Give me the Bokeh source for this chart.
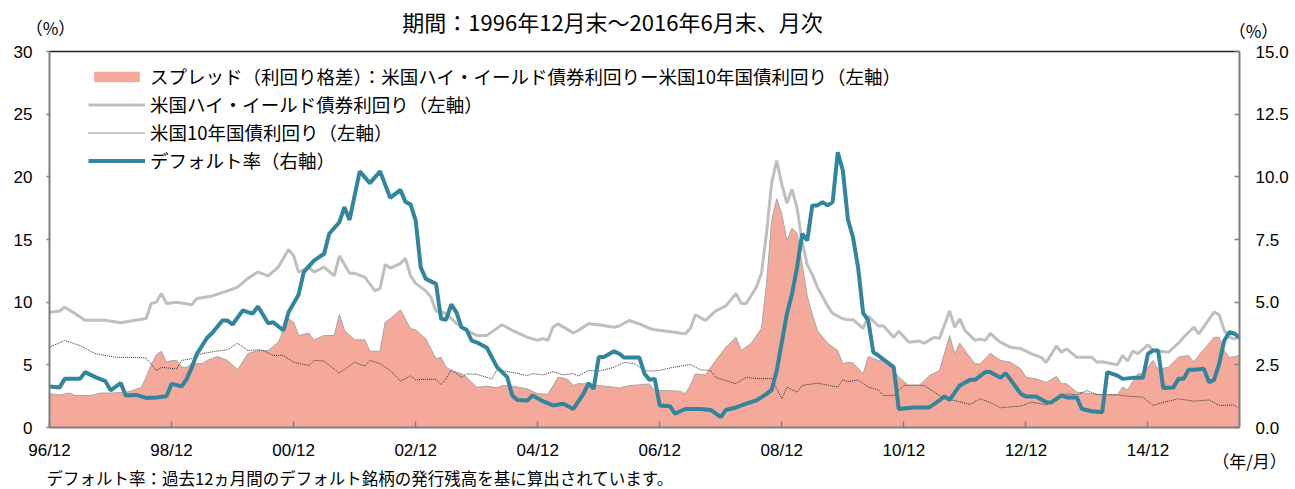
from bokeh.plotting import figure
from bokeh.models import (Range1d, LinearAxis, FixedTicker, Label, Legend,
                          LegendItem, NumeralTickFormatter)
from bokeh.embed import file_html
from bokeh.resources import INLINE

# ---------------- data (month index: 0 = 1996/12, 234 = 2016/6) ----------------
x_tick_pos = [0, 24, 48, 72, 96, 120, 144, 168, 192, 216]
x_tick_labels = ["96/12", "98/12", "00/12", "02/12", "04/12", "06/12",
                 "08/12", "10/12", "12/12", "14/12"]

hy_month = [0, 2, 3, 5, 7, 9, 11, 14, 16, 19, 20, 21, 22, 23, 25, 28, 29, 32, 35, 37,
            39, 41, 43, 45, 47, 48, 49, 51, 52, 54, 56, 57, 59, 60, 62, 64, 65, 66, 67, 69,
            70, 71, 72, 74, 75, 76, 78, 80, 82, 84, 86, 89, 91, 94, 96, 97, 98, 99, 100, 103,
            104, 106, 108, 111, 112, 114, 116, 118, 119, 121, 123, 125, 126, 127, 129, 131, 133, 135, 136, 137,
            139, 140, 141, 142, 143, 144, 145, 146, 147, 148, 149, 150, 151, 153, 154, 156, 157, 158, 160, 161,
            163, 164, 166, 167, 169, 171, 172, 174, 175, 177, 178, 179, 180, 182, 183, 184, 185, 187, 189, 191,
            193, 195, 196, 198, 199, 200, 202, 205, 206, 207, 210, 211, 212, 213, 214, 216, 217, 220, 222, 223,
            225, 226, 229, 230, 231, 232, 233, 234]
hy_yield = [9.2, 9.3, 9.6, 9.1, 8.55, 8.55, 8.55, 8.35, 8.5, 8.7, 9.9, 10.0, 10.7, 9.9, 10.0, 9.8, 10.3, 10.5, 10.9, 11.2,
            11.9, 12.4, 12.1, 12.8, 14.2, 13.7, 12.4, 12.8, 12.4, 12.8, 12.1, 13.7, 12.3, 12.3, 12.0, 10.9, 11.1, 13.0, 12.7, 13.1,
            13.5, 12.1, 11.5, 10.9, 10.4, 9.3, 9.1, 8.3, 7.75, 7.35, 7.35, 8.2, 7.75, 7.2, 6.95, 7.1, 6.95, 8.0, 8.27, 7.55,
            7.75, 8.27, 8.2, 8.0, 8.1, 8.54, 8.27, 7.9, 7.8, 7.7, 7.6, 7.47, 7.9, 9.0, 8.54, 9.3, 9.7, 10.7, 9.9, 9.9,
            11.2, 12.3, 15.5, 19.5, 21.3, 19.4, 17.9, 19.0, 17.5, 14.8, 13.0, 12.2, 11.2, 9.7, 9.1, 8.67, 8.6, 8.6, 7.9, 8.9,
            8.1, 8.1, 7.2, 7.67, 6.8, 6.9, 6.73, 7.2, 7.1, 9.3, 8.0, 8.67, 7.75, 6.95, 7.05, 6.95, 7.5, 6.8, 6.4, 6.3,
            5.9, 5.6, 5.2, 6.5, 6.0, 6.28, 5.6, 5.6, 5.2, 5.25, 5.0, 5.75, 5.3, 6.1, 5.9, 6.6, 6.14, 6.0, 6.73, 7.2,
            8.0, 7.47, 9.2, 9.0, 7.75, 7.2, 7.07, 7.2]

ust_month = [0, 3, 6, 8, 9, 13, 16, 19, 21, 22, 25, 26, 28, 30, 33, 35, 37, 39, 41, 42,
             44, 46, 48, 51, 52, 54, 57, 60, 62, 63, 65, 67, 69, 71, 72, 74, 76, 77, 78, 79,
             81, 82, 84, 87, 88, 91, 94, 95, 97, 99, 101, 103, 104, 106, 108, 111, 113, 115, 117, 118,
             120, 122, 126, 128, 130, 131, 135, 137, 139, 142, 144, 145, 147, 148, 151, 155, 156, 157, 159, 161,
             163, 164, 166, 168, 170, 172, 173, 176, 178, 181, 183, 185, 187, 189, 191, 193, 195, 196, 200, 202,
             204, 206, 210, 212, 215, 217, 219, 222, 225, 228, 230, 233, 234]
ust_yield = [6.4, 6.94, 6.54, 6.1, 5.9, 5.6, 5.6, 5.55, 4.55, 4.8, 4.68, 5.35, 5.5, 5.9, 6.1, 6.2, 6.73, 6.14, 6.2, 6.14,
             5.75, 5.75, 5.2, 4.95, 5.35, 5.3, 4.34, 5.2, 4.9, 5.35, 5.1, 4.55, 3.7, 4.12, 3.8, 3.85, 3.85, 3.43, 3.9, 4.6,
             4.0, 4.28, 4.25, 3.88, 4.6, 4.4, 4.14, 4.3, 4.2, 4.45, 4.2, 4.3, 4.1, 4.55, 4.5, 4.8, 5.2, 5.1, 4.55, 4.5,
             4.55, 4.75, 5.03, 4.6, 4.55, 4.0, 3.49, 4.0, 3.9, 3.9, 2.29, 3.22, 2.82, 3.35, 3.54, 3.22, 3.8, 3.65, 3.8, 3.22,
             3.0, 2.55, 2.55, 3.35, 3.4, 3.35, 3.08, 2.29, 2.15, 1.84, 2.29, 2.0, 1.57, 1.65, 1.7, 2.02, 1.89, 1.8, 2.69, 2.6,
             2.95, 2.62, 2.6, 2.5, 2.42, 1.76, 2.0, 2.29, 2.1, 2.2, 1.76, 1.8, 1.49]

spread_month = [0, 2, 4, 5, 8, 10, 12, 15, 18, 19, 20, 21, 22, 23, 24, 25, 26, 27, 28, 30,
                31, 33, 35, 37, 39, 41, 43, 45, 47, 48, 49, 51, 52, 54, 56, 57, 58, 60, 62, 63,
                65, 66, 67, 69, 71, 72, 74, 76, 77, 78, 79, 81, 82, 84, 86, 88, 89, 91, 94, 96,
                98, 100, 101, 102, 103, 104, 106, 108, 111, 112, 114, 116, 118, 119, 121, 124, 125, 126, 127, 129,
                131, 133, 135, 136, 138, 140, 141, 142, 143, 144, 145, 146, 147, 148, 149, 150, 151, 153, 155, 156,
                157, 158, 160, 161, 163, 164, 166, 167, 169, 171, 173, 175, 177, 178, 179, 180, 182, 183, 185, 187,
                189, 191, 192, 194, 196, 198, 199, 200, 202, 205, 207, 210, 211, 212, 214, 215, 217, 218, 220, 222,
                224, 225, 226, 229, 230, 231, 232, 233, 234]
spread_value = [2.69, 2.6, 2.75, 2.55, 2.55, 2.75, 2.75, 2.8, 3.17, 4.0, 5.0, 5.8, 6.09, 5.21, 5.35, 5.35, 4.81, 4.81, 5.1, 5.1,
                5.35, 5.67, 5.35, 4.62, 5.9, 6.14, 6.14, 6.81, 8.67, 8.4, 7.34, 7.53, 7.0, 7.34, 7.34, 9.02, 7.75, 7.0, 7.0, 6.09,
                6.09, 8.4, 8.67, 9.39, 7.87, 7.8, 7.07, 5.48, 5.6, 4.81, 4.55, 4.3, 4.01, 3.22, 3.3, 3.17, 3.35, 3.3, 3.08, 2.69,
                2.65, 4.01, 3.95, 3.8, 3.35, 3.5, 3.48, 3.35, 3.22, 3.15, 3.35, 3.4, 3.48, 2.95, 2.95, 2.9, 2.69, 3.35, 4.28, 4.2,
                5.35, 6.41, 7.2, 6.14, 6.73, 7.9, 11.5, 16.5, 18.25, 17.05, 14.9, 15.9, 15.5, 13.0, 10.5, 9.0, 7.74, 6.73, 6.14, 5.08,
                5.21, 5.15, 4.28, 5.67, 5.35, 5.4, 4.55, 4.01, 3.35, 3.35, 4.14, 4.55, 7.34, 5.88, 6.73, 6.14, 5.08, 5.08, 5.93, 5.35,
                5.2, 4.68, 4.01, 3.88, 3.6, 4.07, 3.48, 3.5, 2.82, 2.69, 2.62, 2.62, 3.22, 3.0, 4.28, 4.3, 5.35, 4.62, 4.81, 5.61,
                5.75, 5.21, 5.75, 7.2, 7.2, 6.14, 5.61, 5.65, 5.75]

dr_month = [0, 2, 3, 5, 6, 7, 9, 11, 12, 14, 15, 17, 19, 21, 23, 24, 26, 27, 28, 29,
            31, 32, 34, 35, 36, 38, 39, 40, 41, 43, 44, 46, 47, 49, 50, 52, 54, 55, 57, 58,
            59, 61, 63, 65, 67, 69, 70, 71, 72, 73, 74, 76, 77, 78, 79, 80, 81, 82, 83, 84,
            86, 88, 90, 91, 92, 94, 95, 97, 99, 101, 103, 105, 106, 107, 108, 109, 111, 112, 113, 116,
            117, 118, 119, 120, 122, 123, 125, 128, 130, 132, 133, 135, 137, 139, 141, 142, 143, 145, 146, 147,
            148, 149, 150, 151, 152, 153, 154, 155, 156, 157, 158, 159, 160, 161, 162, 163, 166, 167, 170, 173,
            175, 176, 177, 179, 181, 182, 184, 185, 187, 188, 189, 191, 192, 194, 196, 197, 199, 200, 202, 203,
            205, 207, 208, 210, 211, 213, 215, 216, 217, 218, 219, 221, 222, 223, 224, 225, 227, 228, 229, 230,
            231, 232, 233, 234]
dr_value = [1.64, 1.6, 1.94, 1.94, 1.94, 2.21, 2.01, 1.85, 1.48, 1.77, 1.28, 1.3, 1.18, 1.2, 1.25, 1.74, 1.64, 1.94, 2.41, 2.94,
            3.58, 3.77, 4.27, 4.27, 4.11, 4.67, 4.6, 4.55, 4.83, 4.16, 4.2, 3.87, 4.6, 5.31, 6.2, 6.66, 6.93, 7.73, 8.19, 8.79,
            8.28, 10.22, 9.75, 10.22, 9.16, 9.48, 9.0, 8.9, 8.26, 6.39, 5.93, 5.73, 4.34, 4.3, 4.91, 4.6, 4.0, 3.9, 3.47, 3.4,
            3.18, 2.41, 2.01, 1.28, 1.1, 1.08, 1.28, 1.05, 0.88, 0.95, 0.74, 1.34, 1.77, 1.54, 2.81, 2.81, 3.04, 2.95, 2.79, 2.79,
            2.14, 1.9, 1.95, 0.88, 0.85, 0.55, 0.74, 0.74, 0.7, 0.41, 0.7, 0.8, 0.95, 1.08, 1.34, 1.5, 2.27, 4.53, 5.33, 6.39,
            7.73, 7.46, 8.86, 8.86, 8.99, 8.86, 8.99, 10.98, 10.25, 8.3, 7.59, 6.39, 4.56, 4.27, 3.0, 2.87, 2.41, 0.74, 0.8, 0.8,
            1.08, 1.24, 1.1, 1.68, 1.9, 1.9, 2.21, 2.21, 1.98, 2.17, 1.9, 1.34, 1.24, 1.24, 1.01, 1.0, 1.28, 1.2, 1.2, 0.74,
            0.65, 0.61, 2.21, 2.07, 1.94, 1.98, 1.98, 2.94, 3.07, 3.07, 1.58, 1.6, 1.94, 1.94, 2.3, 2.3, 2.34, 1.81, 1.9, 2.54,
            3.47, 3.8, 3.75, 3.58]

left_ticks = [0, 5, 10, 15, 20, 25, 30]
right_ticks = [0, 2.5, 5, 7.5, 10, 12.5, 15]

label_spread = "スプレッド（利回り格差）：米国ハイ・イールド債券利回りー米国10年国債利回り（左軸）"
label_hy = "米国ハイ・イールド債券利回り（左軸）"
label_ust = "米国10年国債利回り（左軸）"
label_dr = "デフォルト率（右軸）"
title_text = "期間：1996年12月末～2016年6月末、月次"
note_text = "デフォルト率：過去12ヵ月間のデフォルト銘柄の発行残高を基に算出されています。"

# ---------------- layout / styling ----------------
JP = "Noto Sans CJK JP"
NUM = "Liberation Sans"
PINK = "#F5A99A"
TEAL = "#31859C"
AXIS = "#7f7f7f"

W, H = 1291, 489
# plot box in canvas pixels
BX0, BX1, BY0, BY1 = 49, 1239, 51, 427
XMAX, YMAX, RMAX = 234, 30, 15
sx = (BX1 - BX0) / XMAX
sy = (BY1 - BY0) / YMAX
sr = (BY1 - BY0) / RMAX

p = figure(width=W, height=H, output_backend="svg", toolbar_location=None,
           x_range=Range1d(-BX0 / sx, XMAX + (W - BX1) / sx),
           y_range=Range1d(-(H - BY1) / sy, YMAX + BY0 / sy),
           min_border=0, min_border_left=0, min_border_right=0,
           min_border_top=0, min_border_bottom=0,
           x_axis_type=None, y_axis_type=None)
p.outline_line_color = None
p.xgrid.visible = False
p.ygrid.visible = False
p.extra_y_ranges = {"right": Range1d(-(H - BY1) / sr, RMAX + BY0 / sr)}

# glyphs
r_spread = p.varea(x=spread_month, y1=[0] * len(spread_month), y2=spread_value, fill_color=PINK)
p.line(spread_month, spread_value, line_color="#A6A6A6", line_width=1)
r_ust = p.line(ust_month, ust_yield, line_color="#333333", line_width=1, line_dash="1 1")
r_hy = p.line(hy_month, hy_yield, line_color="#BFBFBF", line_width=3)
r_dr = p.line(dr_month, dr_value, line_color=TEAL, line_width=4, y_range_name="right")


def style_axis(ax, tin, tout, standoff):
    ax.major_tick_in = tin
    ax.major_tick_out = tout
    ax.minor_tick_line_color = None
    ax.axis_line_color = AXIS
    ax.axis_line_width = 2
    ax.major_tick_line_color = AXIS
    ax.major_tick_line_width = 1.5
    ax.major_label_standoff = standoff
    ax.major_label_text_font = NUM
    ax.major_label_text_font_size = "17px"
    ax.major_label_text_color = "#000000"


xa = LinearAxis(ticker=FixedTicker(ticks=x_tick_pos), fixed_location=0, bounds=(0, XMAX))
xa.major_label_overrides = {t: l for t, l in zip(x_tick_pos, x_tick_labels)}
style_axis(xa, 6, 0, 13)
p.add_layout(xa, "below")

ya = LinearAxis(ticker=FixedTicker(ticks=left_ticks), fixed_location=0, bounds=(0, YMAX))
style_axis(ya, 0, 3, 14)
p.add_layout(ya, "left")

ra = LinearAxis(y_range_name="right", ticker=FixedTicker(ticks=right_ticks),
                formatter=NumeralTickFormatter(format="0.0"), fixed_location=XMAX,
                bounds=(0, RMAX))
style_axis(ra, 5, 0, 16)
p.add_layout(ra, "right")

ta = LinearAxis(ticker=FixedTicker(ticks=[]), fixed_location=YMAX, bounds=(0, XMAX))
ta.axis_line_color = "#222222"
ta.axis_line_width = 1.5
ta.major_label_text_alpha = 0
ta.minor_tick_line_color = None
ta.major_tick_line_color = None
p.add_layout(ta, "above")

# legend (location = bottom-left of legend, px from canvas bottom-left)
legend = Legend(items=[LegendItem(label=label_spread, renderers=[r_spread]),
                       LegendItem(label=label_hy, renderers=[r_hy]),
                       LegendItem(label=label_ust, renderers=[r_ust]),
                       LegendItem(label=label_dr, renderers=[r_dr])],
                location=(88, 316), orientation="vertical",
                background_fill_alpha=0, border_line_color=None,
                padding=0, margin=0, spacing=2,
                glyph_width=57, glyph_height=13, label_height=20, label_standoff=5,
                label_text_font=JP, label_text_font_size="18.5px", label_text_color="#000000")
p.add_layout(legend, "center")


# free texts (px from canvas bottom-left)
def add_label(x, y, text, size, align="left"):
    p.add_layout(Label(x=x, y=y, x_units="screen", y_units="screen", text=text,
                       text_font=JP, text_font_size=size, text_align=align,
                       text_baseline="middle", text_color="#000000"))


add_label(612, H - 20, title_text, "22px", "center")
add_label(50, H - 27, "（%）", "17px", "center")
add_label(1253, H - 30, "（%）", "17px", "center")
add_label(1249, H - 460, "（年/月）", "17px", "center")
add_label(46, H - 477, note_text, "16.5px", "left")

open("out.html", "w").write(file_html(p, INLINE))
